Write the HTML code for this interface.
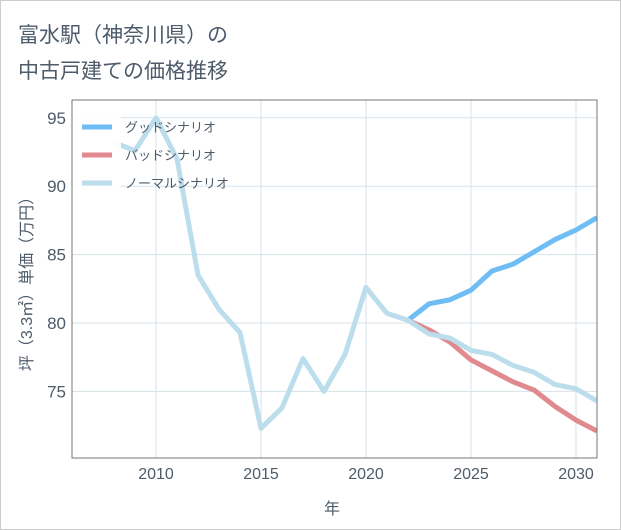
<!DOCTYPE html>
<html><head><meta charset="utf-8"><style>
body{margin:0;background:#fff;font-family:"Liberation Sans","Noto Sans CJK JP",sans-serif;}
#c{position:relative;width:619px;height:528px;border:1px solid #ccc;}
</style></head><body>
<div id="c">
<svg width="621" height="530" style="position:absolute;left:-1px;top:-1px" id="svg">
<text x="18" y="42" font-size="21" fill="#4d5b6a" font-family="Liberation Sans,Noto Sans CJK JP,sans-serif">富水駅（神奈川県）の</text>
<text x="18" y="78" font-size="21" fill="#4d5b6a" font-family="Liberation Sans,Noto Sans CJK JP,sans-serif">中古戸建ての価格推移</text>
<g id="grid"></g><g id="lines"></g><g id="legend"></g>
<rect x="72" y="100" width="525" height="358" fill="none" stroke="#555" stroke-width="0.8"/>
<text x="332" y="514" font-size="16" fill="#4d5b6a" text-anchor="middle" font-family="Liberation Sans,Noto Sans CJK JP,sans-serif">年</text>
<text transform="translate(32,280) rotate(-90)" font-size="16" fill="#4d5b6a" text-anchor="middle" font-family="Liberation Sans,Noto Sans CJK JP,sans-serif">坪（3.3㎡）単価（万円）</text>
</svg></div>
<script>
const years=[2008,2009,2010,2011,2012,2013,2014,2015,2016,2017,2018,2019,2020,2021,2022,2023,2024,2025,2026,2027,2028,2029,2030,2031];
const normal=[93.2,92.6,95,92,83.5,81,79.3,72.3,73.8,77.4,75,77.7,82.6,80.7,80.2,79.2,78.9,78,77.7,76.9,76.4,75.5,75.2,74.3];
const goodYears=[2022,2023,2024,2025,2026,2027,2028,2029,2030,2031];
const good=[80.2,81.4,81.7,82.4,83.8,84.3,85.2,86.1,86.8,87.7];
const bad=[80.2,79.5,78.6,77.3,76.5,75.7,75.1,73.9,72.9,72.1];
const xTicks=[2010,2015,2020,2025,2030];
const yTicks=[75,80,85,90,95];
const NS="http://www.w3.org/2000/svg";
const X0=72,X1=597,Y0=100,Y1=458;
const x=v=>156+(v-2010)*21;
const y=v=>323-(v-80)*13.68;
function mk(t,a,p){const e=document.createElementNS(NS,t);for(const k in a)e.setAttribute(k,a[k]);p.appendChild(e);return e;}
const grid=document.getElementById('grid');
xTicks.forEach(t=>{const l=mk('line',{x1:x(t),x2:x(t),y1:Y0,y2:Y1,stroke:'#d6e2ea'},grid);


const tx=mk('text',{x:x(t),y:479,'font-size':16,fill:'#4d5b6a','text-anchor':'middle'},grid);tx.textContent=t;

});
yTicks.forEach(t=>{const l=mk('line',{x1:X0,x2:X1,y1:y(t),y2:y(t),stroke:'#d6e2ea'},grid);


const tx=mk('text',{x:66,y:y(t)+6,'font-size':17,fill:'#4d5b6a','text-anchor':'end'},grid);tx.textContent=t;

});
const lines=document.getElementById('lines');
function path(xs,vs,col,name){const d=xs.map((v,i)=>(i?'L':'M')+x(v)+','+y(vs[i])).join(' ');
const p=mk('path',{d:d,fill:'none',stroke:col,'stroke-width':5,'stroke-linejoin':'round'},lines);

}
lines.setAttribute('clip-path','url(#clip)');
const cp=mk('clipPath',{id:'clip'},document.getElementById('svg'));mk('rect',{x:X0,y:Y0,width:X1-X0,height:Y1-Y0},cp);
path(goodYears,good,'#6ebef5','good-line');
path(goodYears,bad,'#e08a90','bad-line');
path(years,normal,'#bcdeec','normal-line');
const lg=document.getElementById('legend');
mk('rect',{x:73,y:104,width:48,height:92,fill:'rgba(255,255,255,0.9)'},lg);
[['グッドシナリオ','#6ebef5'],['バッドシナリオ','#e08a90'],['ノーマルシナリオ','#bcdeec']].forEach((e,i)=>{
const yy=127+i*28;
const l=mk('line',{x1:82,x2:112,y1:yy,y2:yy,stroke:e[1],'stroke-width':5},lg);


const t=mk('text',{x:125,y:yy+5,'font-size':13,fill:'#4d5b6a'},lg);t.textContent=e[0];

});
</script>
</body></html>
